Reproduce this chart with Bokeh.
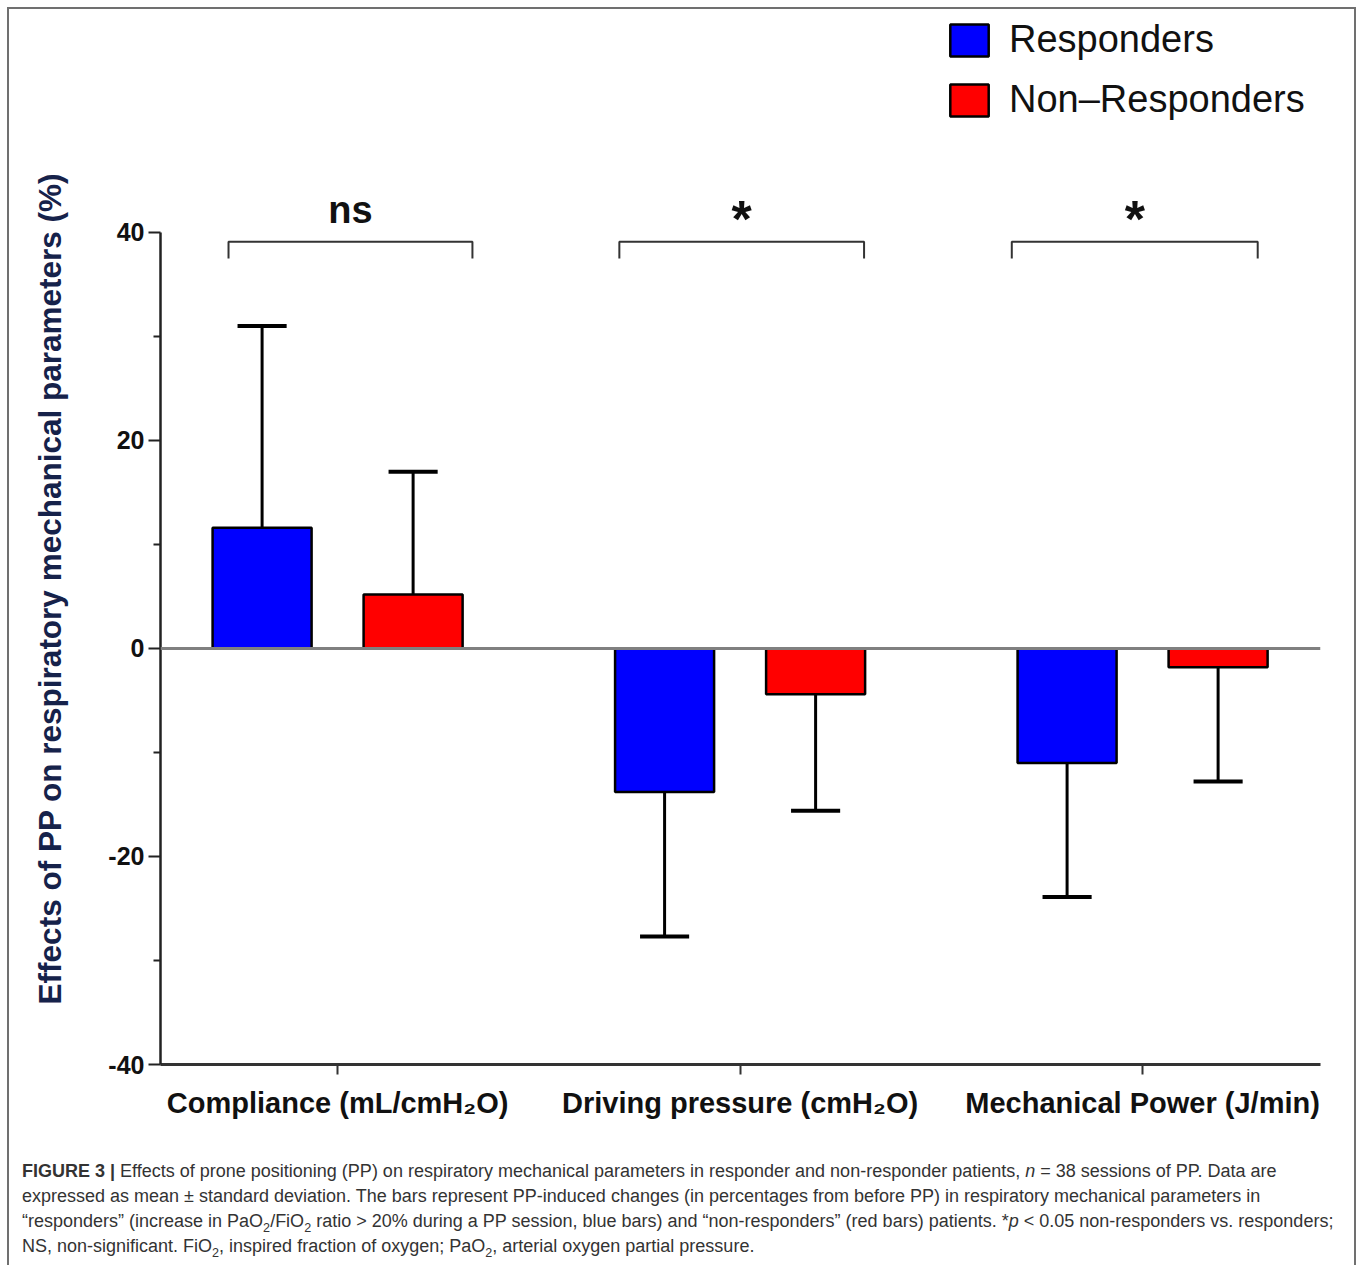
import math
from bokeh.plotting import figure
from bokeh.models import (Range1d, FixedTicker, Span, Legend, LegendItem, Div, LinearAxis)
from bokeh.layouts import column
from bokeh.embed import file_html
from bokeh.resources import INLINE
from bokeh.core.properties import value

# ---------------- data ----------------
categories = ["Compliance (mL/cmH\u2082O)", "Driving pressure (cmH\u2082O)", "Mechanical Power (J/min)"]
series_names = ["Responders", "Non\u2013Responders"]
responders_mean = [11.6, -13.8, -11.0]
responders_sd = [19.4, 13.9, 12.9]
nonresponders_mean = [5.2, -4.4, -1.8]
nonresponders_sd = [11.8, 11.2, 11.0]
significance = ["ns", "*", "*"]
y_major_ticks = [-40, -20, 0, 20, 40]
y_minor_ticks = [-30, -10, 10, 30]
y_label = "Effects of PP on respiratory mechanical parameters  (%)"

# ---------------- layout constants ----------------
W = 1345
H_FIG = 1141
H_CAP = 113
FONT = "Liberation Sans"
BAR_OFF = 0.1876
BAR_W = 0.246
CAP_HALF = 0.061
BRACKET_L = [-0.271, -0.300, -0.325]
BRACKET_R = [0.335, 0.308, 0.286]

idx = list(range(len(categories)))
x_resp = [i - BAR_OFF for i in idx]
x_non = [i + BAR_OFF for i in idx]


def err_end(m, s):
    return m + s if m >= 0 else m - s


resp_end = [err_end(m, s) for m, s in zip(responders_mean, responders_sd)]
non_end = [err_end(m, s) for m, s in zip(nonresponders_mean, nonresponders_sd)]

p = figure(width=W, height=H_FIG,
           x_range=Range1d(-0.44, 2.442), y_range=Range1d(-40, 61.44),
           output_backend="svg", toolbar_location=None,
           min_border_left=151, min_border_right=34,
           min_border_top=0, min_border_bottom=86)
p.xgrid.visible = False
p.ygrid.visible = False
p.outline_line_color = None
p.background_fill_color = "white"
p.border_fill_color = "white"

# axes
xa = p.xaxis[0]
xa.ticker = FixedTicker(ticks=idx, minor_ticks=[])
xa.major_label_overrides = {i: c for i, c in zip(idx, categories)}
xa.axis_line_width = 3
xa.axis_line_color = "#333333"
xa.major_tick_out = 10
xa.major_tick_in = 0
xa.major_tick_line_width = 2
xa.major_tick_line_color = "#333333"
xa.minor_tick_out = 0
xa.minor_tick_in = 0
xa.major_label_text_font = FONT
xa.major_label_text_font_style = "bold"
xa.major_label_text_font_size = "29px"
xa.major_label_text_color = "#111111"
xa.major_label_standoff = 12

ya = p.yaxis[0]
ya.ticker = FixedTicker(ticks=y_major_ticks, minor_ticks=y_minor_ticks)
ya.bounds = (-40, 40)
ya.major_label_overrides = {t: str(t) for t in y_major_ticks}
ya.axis_line_width = 2.5
ya.axis_line_color = "#222222"
ya.major_tick_out = 12
ya.major_tick_in = 0
ya.major_tick_line_width = 2
ya.major_tick_line_color = "#222222"
ya.minor_tick_out = 7
ya.minor_tick_in = 0
ya.minor_tick_line_width = 2
ya.minor_tick_line_color = "#222222"
ya.major_label_text_font = FONT
ya.major_label_text_font_style = "bold"
ya.major_label_text_font_size = "25px"
ya.major_label_text_color = "#111111"
ya.major_label_standoff = 4

# axis carrying only the y title; trailing em spaces push the centred text a little
# downwards, as in the original figure
title_axis = LinearAxis(ticker=FixedTicker(ticks=[], minor_ticks=[]),
                        axis_line_color=None, major_tick_line_color=None,
                        minor_tick_line_color=None, major_tick_out=0, minor_tick_out=0,
                        major_label_text_font_size="0px",
                        axis_label=y_label + "\u2003\u2003\u2003", axis_label_standoff=38,
                        axis_label_text_font=FONT, axis_label_text_font_style="bold",
                        axis_label_text_font_size="31.5px", axis_label_text_color="#16224a")
p.add_layout(title_axis, "left")

# zero line
p.add_layout(Span(location=0, dimension="width", line_color="#808080", line_width=3))

# error bars
for xs, ms, es in ((x_resp, responders_mean, resp_end), (x_non, nonresponders_mean, non_end)):
    p.segment(x0=xs, y0=ms, x1=xs, y1=es, line_color="black", line_width=3)
    p.segment(x0=[x - CAP_HALF for x in xs], y0=es, x1=[x + CAP_HALF for x in xs], y1=es,
              line_color="black", line_width=4)

# bars
r_resp = p.vbar(x=x_resp, width=BAR_W, top=responders_mean, bottom=0,
                fill_color="#0000FF", line_color="black", line_width=2.5)
r_non = p.vbar(x=x_non, width=BAR_W, top=nonresponders_mean, bottom=0,
               fill_color="#FF0000", line_color="black", line_width=2.5)

# significance brackets
bxs, bys = [], []
ns_x, ns_t, st_x, st_t = [], [], [], []
for i, s in zip(idx, significance):
    l, r = i + BRACKET_L[i], i + BRACKET_R[i]
    bxs.append([l, l, r, r])
    bys.append([37.5, 39.1, 39.1, 37.5])
    if s == "*":
        st_x.append((l + r) / 2); st_t.append(s)
    else:
        ns_x.append((l + r) / 2); ns_t.append(s)
p.multi_line(xs=bxs, ys=bys, line_color="#333333", line_width=2)
p.text(x=ns_x, y=[42.2] * len(ns_x), text=ns_t, text_align="center", text_baseline="alphabetic",
       text_font=value(FONT), text_font_style="bold", text_font_size="38px", text_color="#111111")
p.text(x=st_x, y=[41.3] * len(st_x), text=st_t, text_align="center", text_baseline="alphabetic",
       text_font=value(FONT), text_font_style="bold", text_font_size="52px", text_color="#111111")

# legend
legend = Legend(items=[LegendItem(label=series_names[0], renderers=[r_resp]),
                       LegendItem(label=series_names[1], renderers=[r_non])],
                location=(785, 943), orientation="vertical",
                glyph_width=48, glyph_height=40, label_height=40, label_standoff=16,
                spacing=17, padding=0, margin=0,
                border_line_color=None, background_fill_alpha=0,
                label_text_font=FONT, label_text_font_size="38px", label_text_color="#111111")
p.add_layout(legend)

SUB = '<sub style="font-size:70%;line-height:0">2</sub>'
caption_html = (
    '<div style="padding:4px 0 0 8px;font-family:\'Liberation Sans\',Arial,sans-serif;'
    'font-size:18px;line-height:25px;color:#333;white-space:nowrap;">'
    '<b>FIGURE 3 |</b> Effects of prone positioning (PP) on respiratory mechanical parameters in responder and '
    'non-responder patients, <i>n</i> = 38 sessions of PP. Data are<br>'
    'expressed as mean \u00b1 standard deviation. The bars represent PP-induced changes (in percentages from before PP) '
    'in respiratory mechanical parameters in<br>'
    '\u201cresponders\u201d (increase in PaO' + SUB + '/FiO' + SUB + ' ratio &gt; 20% during a PP session, blue bars) and '
    '\u201cnon-responders\u201d (red bars) patients. *<i>p</i> &lt; 0.05 non-responders vs. responders;<br>'
    'NS, non-significant. FiO' + SUB + ', inspired fraction of oxygen; PaO' + SUB + ', arterial oxygen partial pressure.'
    '</div>'
)
caption = Div(text=caption_html, width=W, height=H_CAP)

layout = column(p, caption, styles={"margin": "9px 0 0 9px",
                                    "width": f"{W}px", "max-width": f"{W}px",
                                    "box-shadow": "-2px -2px 0 0 #707070, 2px -2px 0 0 #707070",
                                    "background-color": "white"})

open("out.html", "w").write(file_html(layout, INLINE))
